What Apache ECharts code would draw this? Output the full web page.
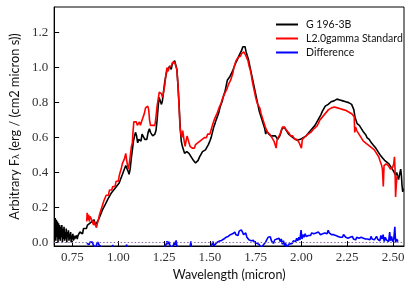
<!DOCTYPE html>
<html><head><meta charset="utf-8">
<script src="https://cdn.jsdelivr.net/npm/echarts@6/dist/echarts.min.js"></script>
<style>html,body{margin:0;padding:0;background:#fff}#c{width:411px;height:288px}</style>
</head><body><div id="c"></div>
<script>
const xTicks = [0.75, 1.00, 1.25, 1.50, 1.75, 2.00, 2.25, 2.50];
const yTicks = [0.0, 0.2, 0.4, 0.6, 0.8, 1.0, 1.2];
const seriesNames = ['G 196-3B', 'L2.0gamma Standard', 'Difference'];

const targetWl = [0.653,0.656,0.659,0.662,0.665,0.668,0.671,0.674,0.677,0.680,0.683,0.686,0.689,0.692,0.695,0.698,0.701,0.704,0.707,0.710,0.713,0.716,0.719,0.722,0.725,0.728,0.731,0.734,0.737,0.740,0.743,0.746,0.749,0.752,0.755,0.758,0.761,0.764,0.768,0.772,0.776,0.780,0.785,0.790,0.795,0.800,0.805,0.810,0.815,0.820,0.826,0.832,0.838,0.844,0.850,0.856,0.862,0.868,0.874,0.881,0.887,0.893,0.900,0.908,0.915,0.922,0.930,0.937,0.944,0.952,0.960,0.967,0.975,0.982,0.990,0.997,1.005,1.012,1.018,1.023,1.030,1.036,1.041,1.047,1.053,1.059,1.065,1.071,1.077,1.083,1.089,1.094,1.100,1.106,1.112,1.118,1.124,1.130,1.138,1.145,1.150,1.156,1.163,1.170,1.176,1.182,1.188,1.194,1.200,1.206,1.212,1.218,1.223,1.230,1.236,1.241,1.247,1.254,1.261,1.268,1.275,1.282,1.289,1.295,1.302,1.308,1.314,1.320,1.326,1.332,1.338,1.344,1.350,1.356,1.362,1.368,1.374,1.380,1.386,1.392,1.398,1.404,1.410,1.416,1.422,1.428,1.436,1.444,1.452,1.460,1.468,1.476,1.484,1.492,1.500,1.507,1.514,1.521,1.528,1.534,1.541,1.548,1.555,1.561,1.568,1.575,1.582,1.590,1.596,1.603,1.610,1.617,1.624,1.631,1.638,1.645,1.652,1.660,1.667,1.674,1.680,1.686,1.692,1.698,1.704,1.710,1.716,1.722,1.728,1.734,1.740,1.746,1.752,1.758,1.764,1.770,1.776,1.782,1.788,1.794,1.800,1.805,1.810,1.816,1.822,1.828,1.834,1.840,1.846,1.852,1.858,1.864,1.870,1.876,1.882,1.888,1.894,1.900,1.906,1.912,1.918,1.924,1.930,1.936,1.942,1.948,1.954,1.960,1.966,1.972,1.978,1.986,1.994,2.002,2.010,2.018,2.026,2.034,2.042,2.050,2.058,2.066,2.074,2.082,2.090,2.098,2.106,2.114,2.122,2.130,2.138,2.146,2.154,2.162,2.170,2.178,2.186,2.194,2.202,2.210,2.218,2.226,2.234,2.242,2.250,2.258,2.266,2.274,2.280,2.286,2.292,2.298,2.304,2.310,2.316,2.322,2.328,2.334,2.340,2.346,2.352,2.358,2.364,2.370,2.376,2.382,2.388,2.394,2.400,2.406,2.412,2.418,2.424,2.430,2.436,2.442,2.448,2.454,2.460,2.466,2.472,2.478,2.484,2.490,2.496,2.502,2.508,2.514,2.520,2.526,2.530,2.534,2.538,2.542,2.546,2.549,2.553,2.556];
const targetFlux = [0.02,0.14,0.01,0.13,0.03,0.12,0.00,0.11,0.02,0.10,0.01,0.09,0.03,0.10,0.00,0.08,0.02,0.09,0.01,0.06,0.02,0.08,0.00,0.06,0.03,0.07,0.01,0.05,0.02,0.06,0.00,0.04,0.02,0.05,0.01,0.04,0.02,0.03,0.01,0.04,0.02,0.04,0.03,0.06,0.05,0.07,0.05,0.08,0.07,0.09,0.08,0.10,0.09,0.11,0.10,0.12,0.11,0.13,0.10,0.09,0.12,0.13,0.15,0.16,0.19,0.18,0.22,0.21,0.25,0.25,0.28,0.27,0.30,0.29,0.32,0.31,0.34,0.36,0.35,0.39,0.41,0.40,0.44,0.45,0.41,0.39,0.42,0.48,0.53,0.58,0.61,0.63,0.61,0.57,0.59,0.60,0.58,0.62,0.61,0.59,0.60,0.59,0.63,0.65,0.63,0.62,0.61,0.60,0.62,0.64,0.70,0.78,0.83,0.82,0.79,0.81,0.86,0.92,0.96,0.99,0.98,1.01,0.99,1.02,1.01,1.04,1.03,0.99,0.90,0.79,0.66,0.58,0.55,0.53,0.51,0.50,0.52,0.53,0.51,0.50,0.49,0.48,0.47,0.46,0.455,0.46,0.47,0.49,0.50,0.52,0.51,0.53,0.54,0.56,0.58,0.60,0.63,0.66,0.68,0.70,0.72,0.74,0.77,0.79,0.81,0.84,0.86,0.90,0.93,0.92,0.95,0.96,0.98,1.00,1.02,1.03,1.05,1.07,1.08,1.10,1.12,1.13,1.12,1.09,1.07,1.05,1.02,0.99,0.96,0.93,0.90,0.87,0.84,0.81,0.78,0.75,0.73,0.71,0.69,0.67,0.65,0.62,0.64,0.63,0.62,0.63,0.61,0.62,0.61,0.60,0.61,0.60,0.59,0.60,0.61,0.63,0.65,0.66,0.66,0.65,0.64,0.63,0.62,0.62,0.61,0.60,0.60,0.595,0.59,0.59,0.585,0.59,0.59,0.60,0.60,0.61,0.61,0.62,0.63,0.64,0.65,0.66,0.67,0.68,0.70,0.71,0.73,0.75,0.76,0.78,0.79,0.79,0.80,0.805,0.81,0.81,0.815,0.82,0.82,0.815,0.82,0.81,0.81,0.805,0.80,0.80,0.795,0.79,0.78,0.76,0.72,0.70,0.68,0.69,0.67,0.66,0.65,0.64,0.63,0.62,0.615,0.60,0.60,0.59,0.58,0.57,0.565,0.555,0.55,0.54,0.53,0.52,0.51,0.50,0.49,0.485,0.48,0.47,0.465,0.46,0.46,0.45,0.44,0.43,0.42,0.41,0.40,0.385,0.40,0.39,0.36,0.35,0.40,0.42,0.38,0.33,0.29,0.31];

const stdWl = [0.828,0.830,0.834,0.838,0.842,0.846,0.850,0.855,0.860,0.865,0.870,0.875,0.881,0.886,0.892,0.898,0.904,0.910,0.916,0.922,0.928,0.934,0.940,0.946,0.952,0.958,0.964,0.970,0.976,0.982,0.988,0.994,1.000,1.005,1.010,1.016,1.022,1.028,1.034,1.041,1.046,1.051,1.055,1.060,1.066,1.072,1.077,1.081,1.085,1.090,1.095,1.099,1.104,1.110,1.116,1.121,1.127,1.132,1.137,1.143,1.149,1.155,1.161,1.166,1.171,1.176,1.182,1.188,1.194,1.200,1.206,1.212,1.218,1.224,1.230,1.236,1.242,1.248,1.254,1.260,1.266,1.272,1.278,1.284,1.290,1.296,1.302,1.308,1.314,1.320,1.326,1.332,1.337,1.342,1.347,1.352,1.356,1.360,1.365,1.370,1.376,1.380,1.386,1.392,1.398,1.404,1.410,1.416,1.422,1.428,1.434,1.440,1.446,1.452,1.458,1.464,1.470,1.476,1.482,1.488,1.494,1.500,1.507,1.514,1.520,1.527,1.534,1.540,1.547,1.554,1.561,1.568,1.574,1.580,1.587,1.594,1.600,1.607,1.614,1.620,1.626,1.631,1.637,1.643,1.649,1.655,1.661,1.667,1.673,1.679,1.685,1.690,1.696,1.702,1.708,1.714,1.720,1.726,1.732,1.738,1.744,1.750,1.755,1.761,1.767,1.773,1.779,1.785,1.791,1.797,1.803,1.809,1.815,1.821,1.827,1.833,1.839,1.844,1.850,1.856,1.862,1.866,1.872,1.878,1.884,1.890,1.896,1.902,1.908,1.914,1.920,1.926,1.933,1.940,1.946,1.952,1.958,1.964,1.970,1.976,1.982,1.988,1.994,2.000,2.005,2.012,2.020,2.028,2.036,2.044,2.052,2.060,2.068,2.076,2.084,2.092,2.100,2.108,2.116,2.124,2.132,2.140,2.148,2.156,2.164,2.172,2.180,2.188,2.196,2.204,2.212,2.220,2.228,2.236,2.244,2.252,2.260,2.268,2.276,2.282,2.288,2.291,2.296,2.302,2.308,2.314,2.320,2.326,2.332,2.338,2.344,2.350,2.356,2.362,2.368,2.374,2.380,2.386,2.392,2.398,2.404,2.410,2.416,2.422,2.428,2.434,2.438,2.442,2.447,2.451,2.456,2.462,2.468,2.474,2.480,2.486,2.492,2.498,2.504,2.508,2.511,2.514,2.518,2.522,2.527];
const stdFlux = [0.12,0.17,0.13,0.16,0.12,0.15,0.16,0.13,0.14,0.10,0.12,0.10,0.085,0.11,0.13,0.16,0.18,0.20,0.22,0.24,0.23,0.27,0.28,0.27,0.30,0.31,0.30,0.32,0.33,0.32,0.35,0.36,0.35,0.38,0.40,0.42,0.45,0.44,0.48,0.51,0.47,0.44,0.42,0.45,0.50,0.55,0.57,0.64,0.69,0.70,0.68,0.69,0.67,0.68,0.69,0.67,0.69,0.68,0.69,0.74,0.77,0.77,0.78,0.76,0.70,0.67,0.66,0.67,0.66,0.67,0.72,0.78,0.82,0.86,0.87,0.85,0.83,0.84,0.90,0.96,1.00,0.98,1.00,0.99,1.01,1.03,1.04,1.03,1.04,0.99,0.90,0.78,0.66,0.62,0.60,0.64,0.63,0.58,0.55,0.58,0.61,0.62,0.57,0.55,0.56,0.54,0.55,0.54,0.56,0.555,0.57,0.56,0.58,0.57,0.59,0.58,0.60,0.61,0.60,0.62,0.63,0.62,0.645,0.67,0.69,0.71,0.72,0.74,0.76,0.78,0.795,0.82,0.83,0.85,0.86,0.88,0.90,0.91,0.93,0.95,0.97,1.00,1.02,1.04,1.05,1.06,1.07,1.065,1.08,1.09,1.09,1.08,1.07,1.06,1.04,1.01,0.99,0.96,0.92,0.89,0.86,0.83,0.81,0.79,0.78,0.77,0.74,0.72,0.70,0.68,0.66,0.645,0.63,0.64,0.62,0.61,0.60,0.59,0.58,0.575,0.54,0.58,0.60,0.595,0.62,0.64,0.66,0.67,0.66,0.65,0.64,0.63,0.625,0.61,0.60,0.61,0.60,0.59,0.58,0.59,0.585,0.57,0.58,0.54,0.59,0.60,0.605,0.61,0.62,0.62,0.63,0.64,0.65,0.66,0.665,0.68,0.70,0.71,0.72,0.73,0.74,0.75,0.76,0.76,0.77,0.765,0.775,0.78,0.77,0.775,0.765,0.77,0.76,0.76,0.755,0.75,0.745,0.74,0.735,0.74,0.72,0.63,0.66,0.64,0.645,0.62,0.61,0.60,0.59,0.58,0.575,0.57,0.565,0.56,0.555,0.55,0.545,0.54,0.54,0.53,0.52,0.51,0.50,0.49,0.47,0.46,0.44,0.42,0.32,0.44,0.45,0.45,0.455,0.44,0.43,0.42,0.415,0.43,0.45,0.49,0.42,0.26,0.33,0.38,0.375];

const diffWl = [0.828,0.834,0.840,0.846,0.852,0.858,0.864,0.870,0.876,0.882,0.888,0.894,0.900,0.906,0.915,0.930,0.945,0.960,0.970,0.978,0.990,1.005,1.020,1.035,1.046,1.052,1.070,1.090,1.110,1.130,1.150,1.170,1.190,1.210,1.230,1.250,1.262,1.266,1.270,1.276,1.282,1.288,1.300,1.306,1.310,1.316,1.320,1.330,1.345,1.360,1.380,1.392,1.396,1.400,1.420,1.440,1.460,1.480,1.500,1.510,1.518,1.522,1.530,1.540,1.546,1.552,1.558,1.564,1.570,1.576,1.582,1.588,1.594,1.600,1.606,1.612,1.618,1.624,1.630,1.636,1.642,1.648,1.654,1.660,1.666,1.672,1.678,1.684,1.690,1.696,1.702,1.708,1.714,1.720,1.726,1.732,1.738,1.744,1.750,1.756,1.762,1.768,1.780,1.795,1.805,1.812,1.818,1.824,1.830,1.836,1.842,1.848,1.854,1.860,1.866,1.872,1.878,1.884,1.890,1.896,1.902,1.908,1.914,1.920,1.930,1.940,1.950,1.956,1.962,1.968,1.974,1.980,1.986,1.992,1.998,2.003,2.008,2.014,2.020,2.026,2.032,2.038,2.044,2.050,2.056,2.062,2.068,2.074,2.080,2.086,2.092,2.098,2.104,2.110,2.116,2.122,2.128,2.134,2.140,2.146,2.152,2.158,2.164,2.170,2.176,2.182,2.188,2.194,2.200,2.206,2.212,2.218,2.224,2.230,2.236,2.242,2.248,2.254,2.260,2.266,2.272,2.278,2.284,2.290,2.296,2.302,2.308,2.314,2.320,2.326,2.332,2.338,2.344,2.350,2.356,2.362,2.368,2.374,2.380,2.386,2.392,2.398,2.404,2.410,2.416,2.422,2.428,2.434,2.440,2.446,2.452,2.458,2.464,2.470,2.476,2.482,2.486,2.492,2.498,2.504,2.510,2.514,2.520,2.527];
const diffFlux = [-0.005,0.004,-0.012,0.002,-0.008,0.003,-0.015,-0.004,-0.03,-0.01,0.002,-0.012,-0.004,-0.025,-0.04,-0.035,-0.05,-0.04,-0.015,-0.04,-0.05,-0.04,-0.06,-0.05,-0.012,-0.04,-0.05,-0.07,-0.08,-0.06,-0.09,-0.06,-0.07,-0.05,-0.04,-0.03,-0.01,0.008,-0.01,0.004,-0.015,-0.03,-0.02,0.003,-0.015,0.012,-0.02,-0.03,-0.05,-0.04,-0.06,-0.03,0.006,-0.03,-0.08,-0.09,-0.07,-0.06,-0.04,-0.03,0.005,-0.02,-0.01,0.002,-0.005,0.008,0.003,0.012,0.008,0.02,0.016,0.03,0.025,0.035,0.03,0.045,0.035,0.05,0.04,0.06,0.045,0.05,0.04,0.065,0.055,0.072,0.06,0.045,0.04,0.055,0.03,0.025,0.015,0.02,0.01,0.005,0.012,0.0,0.005,-0.005,0.003,-0.01,-0.03,-0.01,0.003,0.01,0.03,0.02,0.033,0.01,0.02,-0.005,0.015,0.005,0.02,0.01,0.025,0.005,0.02,-0.01,0.01,-0.02,-0.005,-0.03,-0.01,-0.02,-0.005,0.01,0.02,0.005,0.024,0.01,0.03,0.015,0.071,0.02,0.045,0.03,0.05,0.035,0.045,0.04,0.05,0.04,0.055,0.045,0.05,0.04,0.055,0.045,0.06,0.05,0.045,0.055,0.05,0.06,0.055,0.065,0.05,0.07,0.055,0.06,0.045,0.05,0.045,0.05,0.04,0.045,0.035,0.045,0.03,0.04,0.03,0.045,0.035,0.03,0.04,0.025,0.035,0.03,0.025,0.035,0.02,0.03,0.015,0.03,0.02,0.025,0.015,0.03,0.02,0.025,0.035,0.02,0.03,0.02,0.028,0.015,0.035,0.02,0.03,0.015,0.025,0.035,0.02,0.03,0.01,0.04,0.02,0.045,0.005,0.03,0.015,0.025,0.005,0.06,0.01,0.035,0.005,0.02,0.09,0.0,0.02,0.005];

const zeroLine = [[0.65, 0], [2.56, 0]];

function pairs(xs, ys) { return xs.map((x, i) => [x, ys[i]]); }

const chart = echarts.init(document.getElementById('c'), null, {renderer: 'canvas'});
const serif = '"Liberation Serif", serif';
const sans = 'Lato, "DejaVu Sans", sans-serif';
chart.setOption({
  animation: false,
  grid: {left: 46, right: 7, top: 7, bottom: 42, show: true, borderColor: '#000', borderWidth: 1},
  legend: {
    orient: 'vertical', left: 271, top: 14, itemWidth: 22, itemHeight: 2, itemGap: 3,
    icon: 'rect',
    textStyle: {fontFamily: sans, fontSize: 10.5, color: '#111', padding: [0, 0, 0, 3]},
    data: seriesNames
  },
  xAxis: {
    type: 'value', min: 0.65, max: 2.56,
    name: 'Wavelength (micron)', nameLocation: 'middle', nameGap: 22,
    nameTextStyle: {fontFamily: sans, fontSize: 12.5, color: '#111'},
    axisLine: {show: true, onZero: false, lineStyle: {color: '#000', width: 1}},
    axisTick: {show: true, inside: true, length: 5, customValues: xTicks, lineStyle: {color: '#000'}},
    axisLabel: {customValues: xTicks, formatter: v => v.toFixed(2), fontFamily: serif, fontSize: 13, color: '#333', margin: 5},
    splitLine: {show: false}
  },
  yAxis: {
    type: 'value', min: -0.02, max: 1.347,
    name: '{n|Arbitrary F}{s|λ}{n| (erg / (cm2 micron s))}', nameLocation: 'middle', nameGap: 30,
    nameTextStyle: {rich: {n: {fontFamily: sans, fontSize: 12.8, color: '#111'}, s: {fontFamily: sans, fontSize: 9, color: '#111', verticalAlign: 'bottom', padding: [4, 0, 0, 0]}}},
    axisLine: {show: true, onZero: false, lineStyle: {color: '#000', width: 1}},
    axisTick: {show: true, inside: true, length: 5, customValues: yTicks, lineStyle: {color: '#000'}},
    axisLabel: {customValues: yTicks, formatter: v => v.toFixed(1), fontFamily: serif, fontSize: 13, color: '#333', margin: 6},
    splitLine: {show: false}
  },
  series: [
    {name: seriesNames[0], type: 'line', data: pairs(targetWl, targetFlux), showSymbol: false, clip: true,
      lineStyle: {color: '#000', width: 1.6}, itemStyle: {color: '#000'}, z: 2},
    {name: seriesNames[1], type: 'line', data: pairs(stdWl, stdFlux), showSymbol: false, clip: true,
      lineStyle: {color: '#ff0000', width: 1.6}, itemStyle: {color: '#ff0000'}, z: 3},
    {name: seriesNames[2], type: 'line', data: pairs(diffWl, diffFlux), showSymbol: false, clip: true,
      lineStyle: {color: '#0000ff', width: 1.6}, itemStyle: {color: '#0000ff'}, z: 4},
    {name: 'zero', type: 'line', data: zeroLine, showSymbol: false, clip: true,
      lineStyle: {color: '#8a68a8', width: 1, type: [1.5, 2]}, z: 5, silent: true}
  ]
});
</script></body></html>
